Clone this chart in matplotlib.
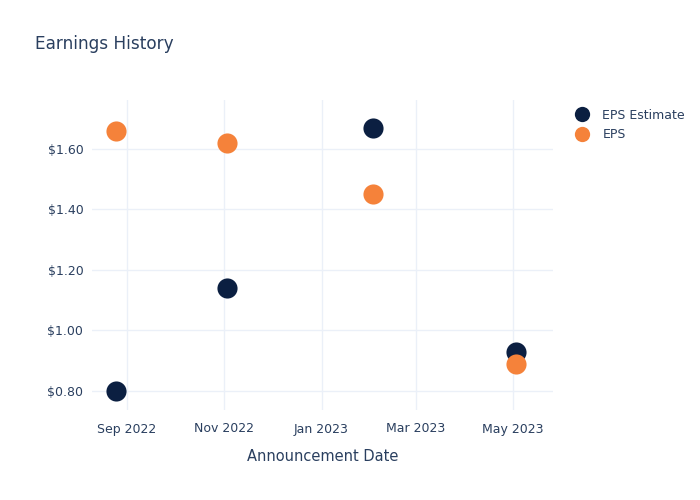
import matplotlib
matplotlib.use("Agg")
import matplotlib.pyplot as plt
import matplotlib.dates as mdates
from matplotlib.ticker import FuncFormatter
from matplotlib.lines import Line2D
import datetime as dt

dates = ["2022-08-25", "2022-11-03", "2023-02-02", "2023-05-03"]
eps_estimate = [0.80, 1.14, 1.67, 0.93]
eps_actual = [1.66, 1.62, 1.45, 0.89]
series_names = ["EPS Estimate", "EPS"]
series_colors = ["#0b1f41", "#f5823a"]

x = [dt.datetime.strptime(d, "%Y-%m-%d") for d in dates]
txt = "#2a3f5f"
grid = "#ebf0f8"

fig = plt.figure(figsize=(7, 5), dpi=100)
ax = fig.add_axes([0.131, 0.18, 0.659, 0.62])
ax.set_facecolor("white")

ax.scatter(x, eps_estimate, s=210, color=series_colors[0], zorder=3, linewidths=0)
ax.scatter(x, eps_actual, s=210, color=series_colors[1], zorder=3, linewidths=0)

ax.set_xlim(dt.datetime(2022, 8, 10), dt.datetime(2023, 5, 26))
ax.set_ylim(0.737, 1.762)
ax.set_yticks([0.8, 1.0, 1.2, 1.4, 1.6])
ax.yaxis.set_major_formatter(FuncFormatter(lambda v, p: f"${v:.2f}"))
ax.set_xticks([dt.datetime(2022, 9, 1), dt.datetime(2022, 11, 1), dt.datetime(2023, 1, 1),
               dt.datetime(2023, 3, 1), dt.datetime(2023, 5, 1)])
ax.xaxis.set_major_formatter(mdates.DateFormatter("%b %Y"))

for s in ax.spines.values():
    s.set_visible(False)
ax.grid(True, color=grid, linewidth=1)
ax.set_axisbelow(True)
ax.tick_params(length=0, labelsize=9, labelcolor=txt, pad=6)
ax.tick_params(axis="x", pad=9)
ax.set_xlabel("Announcement Date", fontsize=10.5, color=txt, labelpad=10)

fig.text(0.05, 0.912, "Earnings History", fontsize=12.2, color=txt, va="center")

handles = [Line2D([0], [0], marker="o", linestyle="", markersize=11,
                  markerfacecolor=c, markeredgewidth=0) for c in series_colors]
leg = fig.legend(handles, series_names, loc="upper left", bbox_to_anchor=(0.805, 0.805),
                 frameon=False, fontsize=9, labelcolor=txt, handletextpad=1.0,
                 labelspacing=0.5, handlelength=1.2)

fig.savefig("out.png", dpi=100)
